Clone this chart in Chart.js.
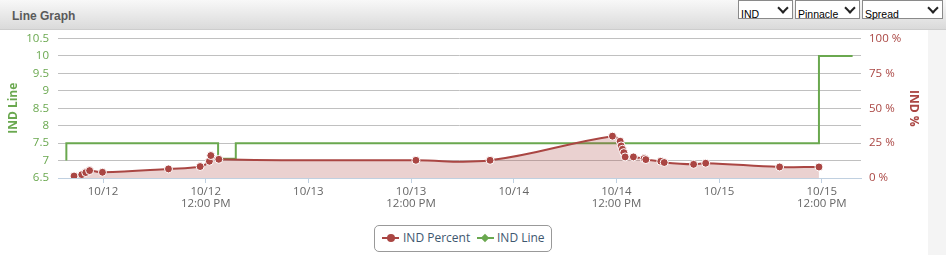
<!DOCTYPE html>
<html>
<head>
<meta charset="utf-8">
<script src="https://cdn.jsdelivr.net/npm/chart.js@4.4.0/dist/chart.umd.min.js"></script>
<style>
html,body{margin:0;padding:0;}
body{width:946px;height:255px;overflow:hidden;background:#f4f4f4;position:relative;font-family:'Open Sans',sans-serif;}
#head{position:absolute;left:0;top:0;width:946px;height:29px;background:linear-gradient(#f8f8f8,#dadada);border-bottom:1px solid #cdcdcd;}
#head .title{position:absolute;left:12px;top:9px;font:bold 12px 'Liberation Sans',Arial,sans-serif;color:#5a5a5a;}
.sel{position:absolute;top:0;height:19px;box-sizing:border-box;border:1px solid #8a8a8a;background:#fff;}
.sel select{appearance:none;-webkit-appearance:none;border:0;background:transparent;font:10.5px 'Liberation Sans',Arial,sans-serif;color:#000;width:100%;height:100%;padding:0 0 0 2px;margin:0;outline:none;}
.sel:after{content:'';position:absolute;right:5px;top:3px;width:6px;height:6px;border-right:2px solid #222;border-bottom:2px solid #222;transform:rotate(45deg);pointer-events:none;}
#panel{position:absolute;left:0;top:30px;width:928px;height:225px;background:#fff;}
#chart{position:absolute;left:0;top:0;}
#legend{position:absolute;left:374px;top:225px;width:178px;height:27px;box-sizing:border-box;border:1px solid #999;border-radius:5px;background:#fff;}
.lg{position:absolute;}
.lline{height:2px;width:17px;top:237px;}
.ldot{width:8px;height:8px;border-radius:50%;top:234px;}
.ldia{width:6px;height:6px;transform:rotate(45deg);top:235px;}
.ltxt{font-size:12px;line-height:14px;top:231px;color:#3e576f;white-space:nowrap;}
</style>
</head>
<body>
<div id="head">
  <div class="title">Line Graph</div>
  <div class="sel" style="left:738px;width:55px;"><select><option>IND</option></select></div>
  <div class="sel" style="left:795px;width:65px;"><select><option>Pinnacle</option></select></div>
  <div class="sel" style="left:862px;width:81px;"><select><option>Spread</option></select></div>
</div>
<div id="panel"><canvas id="chart" width="928" height="190"></canvas></div>
<div id="legend"></div>
<div class="lg lline" style="left:382px;background:#AA4643;"></div>
<div class="lg ldot" style="left:387px;background:#AA4643;"></div>
<div class="lg ltxt" style="left:403px;">IND Percent</div>
<div class="lg lline" style="left:477px;background:#6AA84F;"></div>
<div class="lg ldia" style="left:482px;background:#6AA84F;"></div>
<div class="lg ltxt" style="left:497px;">IND Line</div>

<script>
// IND Percent series (red, right axis)
var percentTimes = ['10/11 20:37', '10/11 21:31', '10/11 21:59', '10/11 22:26', '10/11 23:56',
  '10/12 07:39', '10/12 11:21', '10/12 12:26', '10/12 12:36', '10/12 13:32',
  '10/13 12:34', '10/13 21:14', '10/14 11:32', '10/14 12:26', '10/14 12:33',
  '10/14 12:42', '10/14 12:52', '10/14 13:01', '10/14 13:59', '10/14 15:14',
  '10/14 15:26', '10/14 17:11', '10/14 17:35', '10/14 21:01', '10/14 22:26',
  '10/15 07:04', '10/15 11:40'];
var percentValues = [1.4, 2.4, 3.9, 5.3, 4.1,
  6.5, 8.2, 12.0, 16.1, 13.4,
  12.7, 12.7, 30.0, 26.4, 23.0,
  20.6, 18.2, 15.1, 15.1, 13.9,
  13.2, 12.0, 11.1, 9.8, 10.6,
  7.9, 7.9];

// IND Line series (green, left axis)
var lineTimes = ['10/11 19:43', '10/11 19:43', '10/12 13:27', '10/12 15:31', '10/15 11:40', '10/15 15:36'];
var lineValues = [7, 7.5, 7.05, 7.5, 10, 10];

var xTickLabels = ['10/12', '10/12\n12:00 PM', '10/13', '10/13\n12:00 PM',
  '10/14', '10/14\n12:00 PM', '10/15', '10/15\n12:00 PM'];
var percentTicks = ['0 %', '25 %', '50 %', '75 %', '100 %'];

var RED = '#AA4643';
var GREEN = '#6AA84F';

// hours since 10/12 00:00
function hrs(s) {
  var parts = s.split(' ');
  var day = Number(parts[0].split('/')[1]);
  var hm = parts[1].split(':').map(Number);
  return (day - 12) * 24 + hm[0] + hm[1] / 60;
}

function pairs(times, values) {
  return times.map(function(t, i) { return {x: hrs(t), y: values[i]}; });
}

// fixed axis sizes so the plot area lands where the original has it
function fixWidth(w) {
  return function(s) { s.width = w; s.paddingTop = 0; s.paddingBottom = 0; };
}

Chart.defaults.font.family = "'Open Sans', sans-serif";

var chart = new Chart(document.getElementById('chart').getContext('2d'), {
  type: 'line',
  data: {
    datasets: [{
      label: 'IND Percent',
      data: pairs(percentTimes, percentValues),
      yAxisID: 'y1',
      borderColor: RED,
      backgroundColor: 'rgba(170,70,67,0.25)',
      fill: 'origin',
      borderWidth: 2,
      tension: 0.4,
      pointRadius: 4,
      pointBackgroundColor: RED,
      pointBorderColor: '#fff',
      pointBorderWidth: 1
    }, {
      label: 'IND Line',
      data: pairs(lineTimes, lineValues),
      yAxisID: 'y',
      borderColor: GREEN,
      borderWidth: 2,
      stepped: true,
      fill: false,
      pointRadius: 0
    }]
  },
  options: {
    responsive: false,
    animation: false,
    layout: {padding: {top: 8.5, left: 0, right: 0, bottom: 0}},
    plugins: {legend: {display: false}, tooltip: {enabled: false}},
    scales: {
      x: {
        type: 'linear',
        min: -5.26,
        max: 88.58,
        afterFit: function(s) { s.height = 42; s.paddingLeft = 0; s.paddingRight = 0; },
        grid: {drawOnChartArea: false, drawTicks: true, tickLength: 5, color: '#C0D0E0'},
        border: {color: '#C0D0E0'},
        ticks: {
          stepSize: 12, includeBounds: false, autoSkip: false, maxRotation: 0,
          color: '#666', padding: 2, font: {size: 11.5, lineHeight: 1.1},
          callback: function(v) {
            var l = xTickLabels[Math.round(v / 12)];
            return l ? l.split('\n') : '';
          }
        }
      },
      y: {
        position: 'left',
        min: 6.5, max: 10.5,
        afterFit: fixWidth(58),
        grid: {
          drawTicks: false,
          color: function(c) { return c.tick && c.tick.value === 6.5 ? 'rgba(0,0,0,0)' : '#C0C0C0'; }
        },
        border: {display: false},
        ticks: {stepSize: 0.5, autoSkip: false, color: GREEN, padding: 9, font: {size: 11.5},
          callback: function(v) { return String(v); }},
        title: {display: true, text: 'IND Line', color: GREEN, font: {size: 12, weight: 'bold'}, padding: {top: 6, bottom: 0}}
      },
      y1: {
        position: 'right',
        min: 0, max: 100,
        afterFit: fixWidth(67),
        grid: {drawOnChartArea: false, drawTicks: false},
        border: {display: false},
        ticks: {stepSize: 12.5, autoSkip: false, color: RED, padding: 8, font: {size: 11.5},
          callback: function(v) { return v % 25 === 0 ? percentTicks[v / 25] : ''; }},
        title: {display: true, text: 'IND %', color: RED, font: {size: 12, weight: 'bold'}, padding: {top: 7, bottom: 0}}
      }
    }
  }
});
</script>
</body>
</html>
